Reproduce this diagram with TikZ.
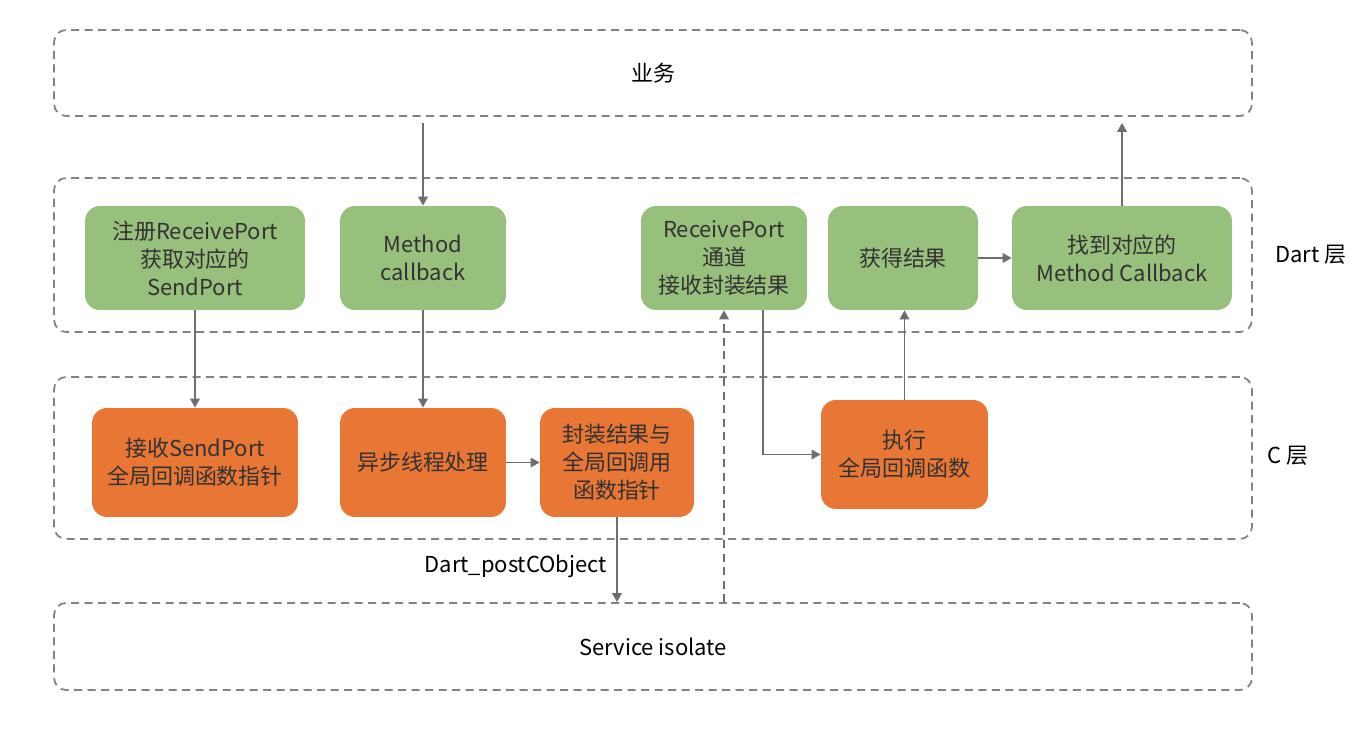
\documentclass[tikz,border=0pt]{standalone}
\usepackage{fontspec}
\setmainfont{Noto Sans CJK SC}
\usetikzlibrary{arrows.meta}
\definecolor{dartcol}{RGB}{152, 192, 125}
\definecolor{ccol}{RGB}{232, 118, 52}
\definecolor{txtcol}{RGB}{50, 50, 50}
\definecolor{linecol}{RGB}{110, 110, 110}
\definecolor{framecol}{RGB}{130, 130, 130}
\tikzset{
  band/.style={draw=framecol, line width=1pt, dash pattern=on 1.6mm off 1.1mm,
               rounded corners=2.4mm, minimum width=23.96cm, align=center,
               font=\fontsize{12.5}{16}\selectfont},
  box/.style={rounded corners=3mm, align=center, text=txtcol, inner sep=0pt,
              minimum height=2.08cm, font=\fontsize{12.5}{16}\selectfont},
  dartbox/.style={box, fill=dartcol},
  cbox/.style={box, fill=ccol, minimum height=2.18cm},
  flow/.style={-{Triangle[length=1.8mm, width=1.9mm]}, draw=linecol, line width=1pt},
  dashflow/.style={flow, dash pattern=on 1.6mm off 1.1mm},
}

\begin{document}
\begin{tikzpicture}[x=0.02cm, y=-0.02cm]
  \useasboundingbox (0,0) rectangle (1368,730);

  % layers
  \node[band, minimum height=1.72cm] (biz) at (653,73)    {业务};
  \node[band, minimum height=3.08cm] (dart) at (653,255)  {};
  \node[band, minimum height=3.24cm] (clay) at (653,458)  {};
  \node[band, minimum height=1.74cm] (svc) at (653,646.5) {Service isolate};

  \node[font=\fontsize{12.5}{16}\selectfont] (dartlbl) at (1311,255) {Dart 层};
  \node[font=\fontsize{12.5}{16}\selectfont] (clbl)    at (1288,456) {C 层};

  % Dart
  \node[dartbox, minimum width=4.4cm]  (reg)  at (195,258)  {注册ReceivePort\\获取对应的\\SendPort};
  \node[dartbox, minimum width=3.32cm] (meth) at (423,258)  {Method\\callback};
  \node[dartbox, minimum width=3.32cm] (recv) at (724,258)  {ReceivePort\\通道\\接收封装结果};
  \node[dartbox, minimum width=3cm]    (res)  at (903,258)  {获得结果};
  \node[dartbox, minimum width=4.4cm]  (cb)   at (1122,258) {找到对应的\\Method Callback};

  % C
  \node[cbox, minimum width=4.12cm] (sendptr) at (195,462.5) {接收SendPort\\全局回调函数指针};
  \node[cbox, minimum width=3.32cm] (async)   at (423,462.5) {异步线程处理};
  \node[cbox, minimum width=3.08cm] (wrap)    at (617,462.5) {封装结果与\\全局回调用\\函数指针};
  \node[cbox, minimum width=3.34cm] (exec)    at (904.5,454.5) {执行\\全局回调函数};

  \draw[flow, shorten <=1.2mm] (biz.south -| meth) -- (meth);
  \draw[flow] (reg) -- (sendptr);
  \draw[flow] (meth) -- (async);
  \draw[flow] (async) -- (wrap);
  \draw[flow] (wrap) -- (wrap |- svc.north)
    node[pos=0.58, left=2pt, font=\fontsize{12.5}{16}\selectfont] (post) {Dart\_postCObject};
  \draw[dashflow] (svc.north -| recv) -- (recv);
  \draw[flow] ([xshift=0.78cm]recv.south) |- (exec);
  \draw[flow] (exec) -- (exec |- res.south);
  \draw[flow] (res) -- (cb);
  \draw[flow, shorten >=1.2mm] (cb) -- (cb |- biz.south);
\end{tikzpicture}
\end{document}
